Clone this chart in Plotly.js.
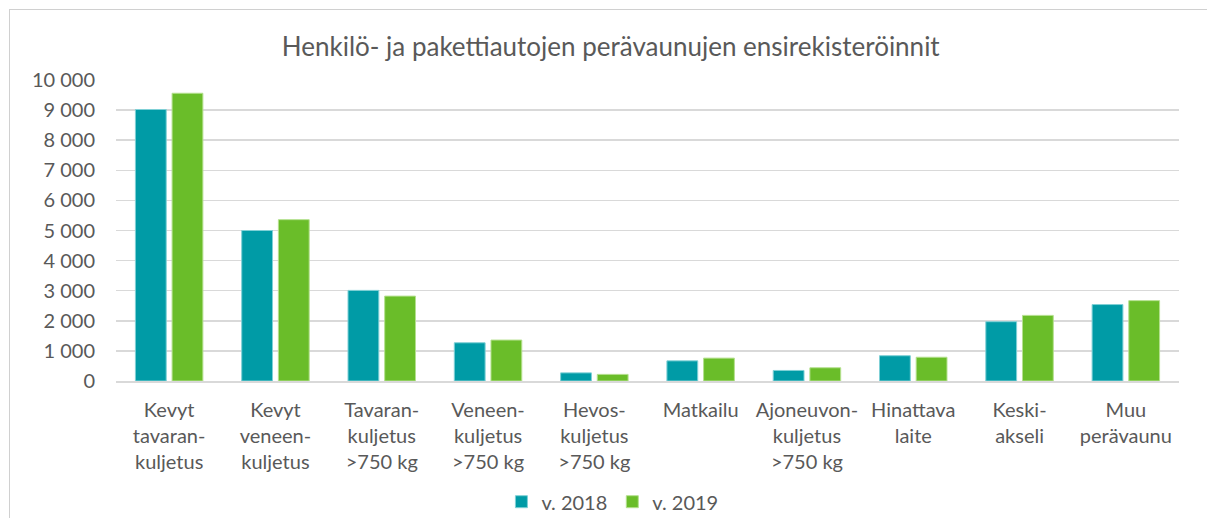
<!DOCTYPE html>
<html>
<head>
<meta charset="utf-8">
<script src="https://cdn.plot.ly/plotly-3.0.1.min.js"></script>
<style>
html,body{margin:0;padding:0;background:#fff;}
#frame{position:absolute;left:9px;top:9px;width:1220px;height:540px;border:1.5px solid #d0d0d0;box-sizing:border-box;}
#chart{position:absolute;left:0;top:0;width:1207px;height:518px;}
</style>
</head>
<body>
<div id="frame"></div>
<div id="chart"></div>
<script>
const categories = [
  "Kevyt<br>tavaran-<br>kuljetus",
  "Kevyt<br>veneen-<br>kuljetus",
  "Tavaran-<br>kuljetus<br>>750 kg",
  "Veneen-<br>kuljetus<br>>750 kg",
  "Hevos-<br>kuljetus<br>>750 kg",
  "Matkailu",
  "Ajoneuvon-<br>kuljetus<br>>750 kg",
  "Hinattava<br>laite",
  "Keski-<br>akseli",
  "Muu<br>perävaunu"
];
const values2018 = [9020, 5000, 3010, 1270, 270, 670, 350, 840, 1970, 2540];
const values2019 = [9560, 5360, 2820, 1360, 220, 760, 440, 790, 2180, 2670];
const seriesNames = ["v. 2018", "v. 2019"];
const tickVals = [0,1000,2000,3000,4000,5000,6000,7000,8000,9000,10000];
const tickText = ["0","1 000","2 000","3 000","4 000","5 000","6 000","7 000","8 000","9 000","10 000"];

const font = "Lato, 'Open Sans', sans-serif";
const textColor = "#595959";

const traces = [
  {type:"bar", name:seriesNames[0], x:categories, y:values2018,
   marker:{color:"#009ba6", line:{color:"#7fd0d6", width:1}}, hoverinfo:"y"},
  {type:"bar", name:seriesNames[1], x:categories, y:values2019,
   marker:{color:"#6abd29", line:{color:"#b5e08f", width:1}}, hoverinfo:"y"}
];

const layout = {
  width:1207, height:518,
  paper_bgcolor:"rgba(0,0,0,0)", plot_bgcolor:"rgba(0,0,0,0)",
  margin:{l:116, r:28, t:79.5, b:137, autoexpand:false},
  font:{family:font, color:textColor, size:20},
  title:{text:"Henkilö- ja pakettiautojen perävaunujen ensirekisteröinnit",
         font:{family:font, size:26, color:textColor},
         x:0.506, xanchor:"center", y:0.91, yanchor:"middle"},
  barmode:"group", bargap:0.31, bargroupgap:0.16,
  xaxis:{tickfont:{size:20, color:textColor}, showline:true, linecolor:"#d9d9d9", linewidth:1.5,
         ticks:"", fixedrange:true, automargin:false, ticklabelstandoff:10},
  yaxis:{range:[0,10000], tickvals:tickVals, ticktext:tickText,
         tickfont:{size:20, color:textColor}, gridcolor:"#d9d9d9", gridwidth:1.5,
         zeroline:false, ticks:"", ticklen:0, fixedrange:true, automargin:false, ticklabelstandoff:20},
  showlegend:true,
  legend:{orientation:"h", x:0.467, xanchor:"center", y:-0.401, yanchor:"middle",
          font:{size:20, color:textColor}, itemwidth:30, traceorder:"normal"},
  hovermode:false
};
Plotly.newPlot("chart", traces, layout, {displayModeBar:false, staticPlot:true});
</script>
</body>
</html>
